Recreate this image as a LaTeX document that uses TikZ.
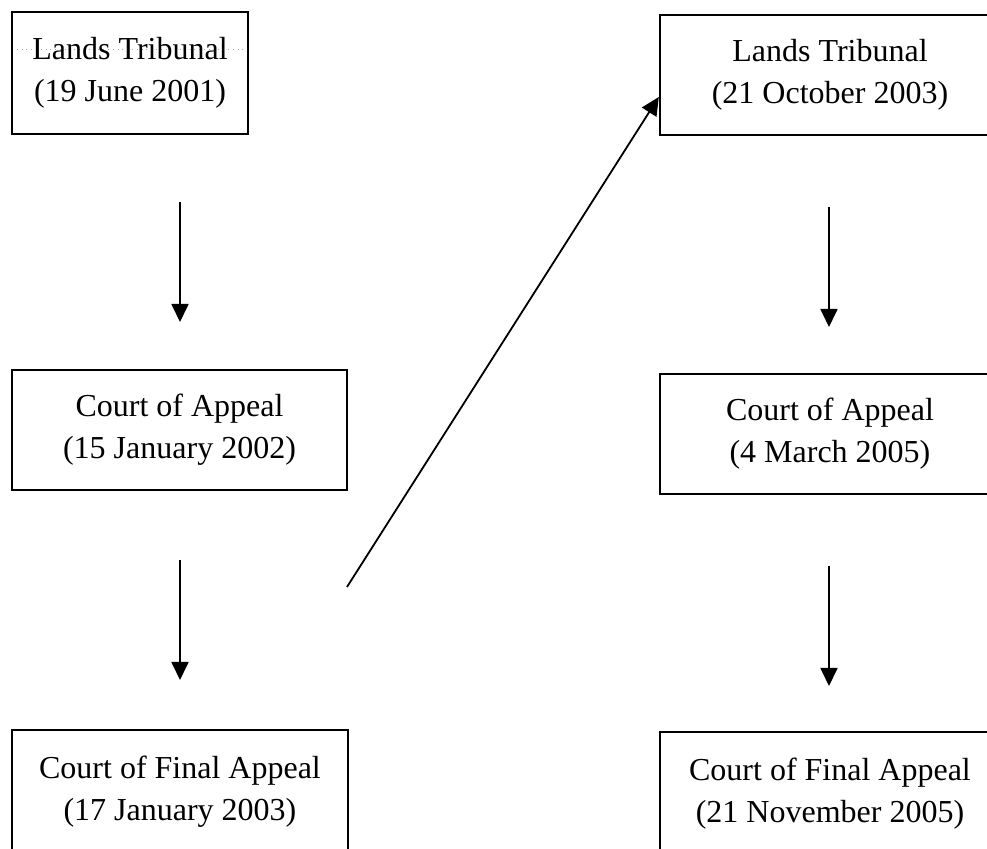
\documentclass[tikz,border=0pt]{standalone}
\usepackage{fontspec}
\setmainfont{Liberation Serif}
\usetikzlibrary{arrows.meta}
\begin{document}
\begin{tikzpicture}[x=0.5pt,y=-0.5pt,
  box/.style={draw=black,line width=1.2pt,inner sep=0pt,align=center,
    font=\fontsize{16}{21}\selectfont},
  flow/.style={line width=0.9pt,-{Triangle[length=9pt,width=8.5pt]}}]
\useasboundingbox (0,0) rectangle (987,849);
\clip (0,0) rectangle (987,849);
% dotted artifact line through first title
\draw[gray!70,line width=0.4pt,dotted] (12,49) -- (248,49);
\node[box,minimum width=118pt,minimum height=61pt] (b1) at (130,73) {Lands Tribunal\\(19 June 2001)};
\node[box,minimum width=170pt,minimum height=60pt] (b2) at (830,75) {Lands Tribunal\\(21 October 2003)};
\node[box,minimum width=167.5pt,minimum height=60pt] (b3) at (179.5,430) {Court of Appeal\\(15 January 2002)};
\node[box,minimum width=170pt,minimum height=60pt] (b4) at (830,434) {Court of Appeal\\(4 March 2005)};
\node[box,minimum width=168pt,minimum height=62pt] (b5) at (180,792) {Court of Final Appeal\\(17 January 2003)};
\node[box,minimum width=170pt,minimum height=62pt] (b6) at (830,794) {Court of Final Appeal\\(21 November 2005)};
% arrow end points
\coordinate (a1s) at (180,202); \coordinate (a1e) at (180,322);
\coordinate (a2s) at (180,560); \coordinate (a2e) at (180,680);
\coordinate (a3s) at (829,207); \coordinate (a3e) at (829,327);
\coordinate (a4s) at (829,566); \coordinate (a4e) at (829,686);
\coordinate (d0) at (347,587);
\draw[flow] (a1s) -- (a1e);
\draw[flow] (a2s) -- (a2e);
\draw[flow] (a3s) -- (a3e);
\draw[flow] (a4s) -- (a4e);
\draw[flow] (d0) -- ([yshift=-11pt]b2.west);
\end{tikzpicture}
\end{document}
